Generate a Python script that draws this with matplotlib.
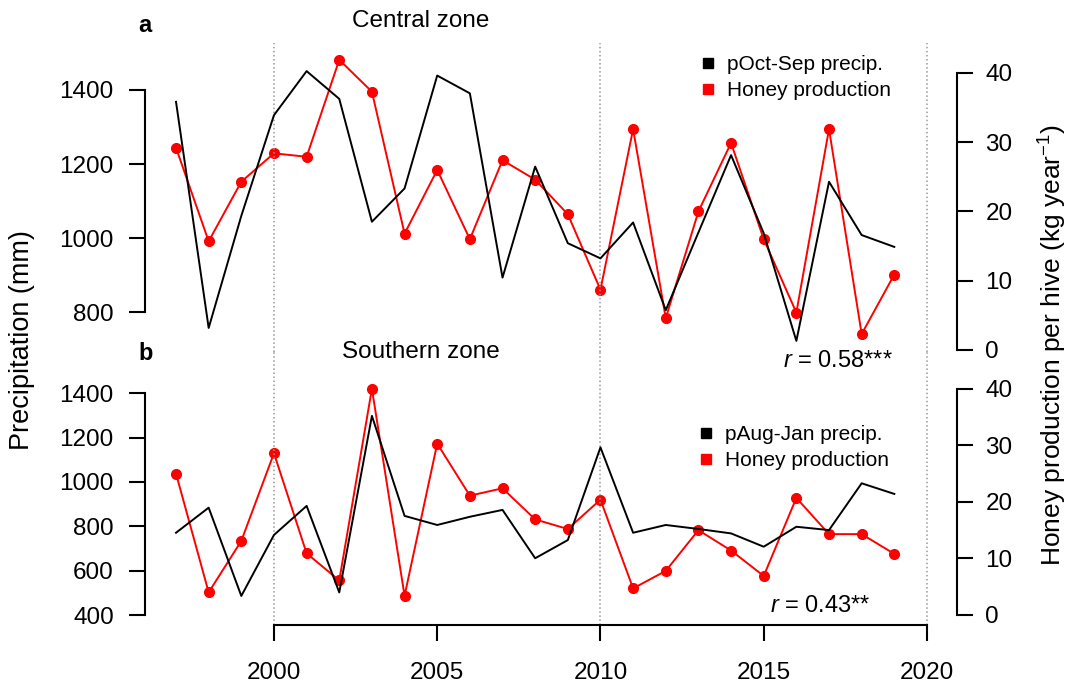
import numpy as np
import matplotlib.pyplot as plt
from matplotlib.lines import Line2D

plt.rcParams['font.family'] = ['Liberation Sans', 'DejaVu Sans']
plt.rcParams['mathtext.fontset'] = 'custom'
plt.rcParams['mathtext.rm'] = 'Liberation Sans'
plt.rcParams['mathtext.it'] = 'Liberation Sans:italic'

years = np.arange(1997, 2020)

# central zone
precip_central = [1368, 757, 1060, 1332, 1451, 1376, 1044, 1134, 1439, 1391, 893, 1193,
                  986, 945, 1042, 805, 1015, 1224, 1013, 722, 1152, 1008, 976]
honey_central = [29.2, 15.7, 24.3, 28.4, 27.9, 41.9, 37.3, 16.8, 26.0, 16.0, 27.4, 24.6,
                 19.6, 8.7, 31.9, 4.6, 20.0, 29.9, 16.0, 5.4, 31.9, 2.3, 10.9]

# southern zone
precip_south = [771, 884, 486, 761, 892, 502, 1298, 847, 806, 843, 874, 656,
                738, 1156, 771, 806, 788, 768, 708, 798, 783, 994, 946]
honey_south = [25.0, 4.0, 13.1, 28.6, 10.9, 6.1, 40.0, 3.4, 30.3, 21.1, 22.4, 16.9,
               15.2, 20.4, 4.7, 7.8, 15.0, 11.4, 6.9, 20.7, 14.3, 14.3, 10.8]

xticks = [2000, 2005, 2010, 2015, 2020]
vlines = [2000, 2010, 2020]

W, H = 1076, 686
fig = plt.figure(figsize=(W / 100, H / 100), dpi=100)


def fx(px):
    return px / W


def fy(px):
    return 1 - px / H


left, right = 145, 957
ax_a = fig.add_axes([fx(left), fy(352), fx(right - left), fy(43) - fy(352)])
ax_b = fig.add_axes([fx(left), fy(625), fx(right - left), fy(352) - fy(625)])

tick_kw = dict(direction='out', length=11.5, width=1.5, labelsize=17.5)


def setup(ax, prec, honey, plim, pticks, hlim, label_p, r_text, r_xy, leg_xy, title, title_xy, letter_xy, bottom):
    ax2 = ax.twinx()
    ax.set_zorder(ax2.get_zorder() + 1)
    ax.patch.set_visible(False)
    for v in vlines:
        ax.axvline(v, color='#999999', ls=':', lw=1.1, zorder=0)
    ax.plot(years, prec, color='black', lw=1.4, zorder=2)
    ax2.plot(years, honey, color='red', lw=1.4, marker='o', ms=7, zorder=3)
    ax.set_xlim(1996.05, 2020.92)
    ax.set_ylim(*plim)
    ax2.set_ylim(*hlim)
    for a in (ax, ax2):
        for s in a.spines.values():
            s.set_visible(False)
            s.set_linewidth(1.5)
    ax.spines['left'].set_visible(True)
    ax.spines['left'].set_bounds(pticks[0], pticks[-1])
    ax.set_yticks(pticks)
    ax.tick_params(axis='y', pad=11, **tick_kw)
    ax2.spines['right'].set_visible(True)
    ax2.spines['right'].set_bounds(0, 40)
    ax2.set_yticks([0, 10, 20, 30, 40])
    ax2.tick_params(axis='y', pad=9, **tick_kw)
    if bottom:
        ax.spines['bottom'].set_visible(True)
        ax.spines['bottom'].set_bounds(2000, 2020)
        ax.set_xticks(xticks)
        ax.tick_params(axis='x', pad=15, **tick_kw)
    else:
        ax.set_xticks([])
    handles = [Line2D([], [], color='black', marker='s', ls='none', ms=7),
               Line2D([], [], color='red', marker='s', ls='none', ms=7)]
    fig.legend(handles, [label_p, 'Honey production'], loc='upper left',
               bbox_to_anchor=(fx(leg_xy[0]), fy(leg_xy[1])), frameon=False,
               fontsize=15, handlelength=0.6, handletextpad=0.6, labelspacing=0.35,
               borderpad=0, borderaxespad=0)
    fig.text(fx(r_xy[0]), fy(r_xy[1]), r_text, ha='right', va='center', fontsize=17)
    fig.text(fx(title_xy[0]), fy(title_xy[1]), title, ha='center', va='center', fontsize=17.5)
    fig.text(fx(letter_xy[0]), fy(letter_xy[1]), letter_xy[2], ha='center', va='center',
             fontsize=17, fontweight='bold')
    return ax2


setup(ax_a, precip_central, honey_central, (692, 1527), [800, 1000, 1200, 1400], (-0.29, 44.33),
      'pOct-Sep precip.', r'$r$ = 0.58***', (893, 361), (702, 55), 'Central zone', (421, 21),
      (145, 26, 'a'), False)
setup(ax_b, precip_south, honey_south, (355, 1586), [400, 600, 800, 1000, 1200, 1400], (-1.77, 46.5),
      'pAug-Jan precip.', r'$r$ = 0.43**', (871, 606), (700, 425), 'Southern zone', (421, 352),
      (146, 353, 'b'), True)

fig.text(fx(22), fy(340), 'Precipitation (mm)', rotation=90, ha='center', va='center', fontsize=19.5)
fig.text(fx(1053), fy(345), r'Honey production per hive (kg year$^{-1}$)', rotation=90,
         ha='center', va='center', fontsize=19)

fig.savefig('out.png', dpi=100)
